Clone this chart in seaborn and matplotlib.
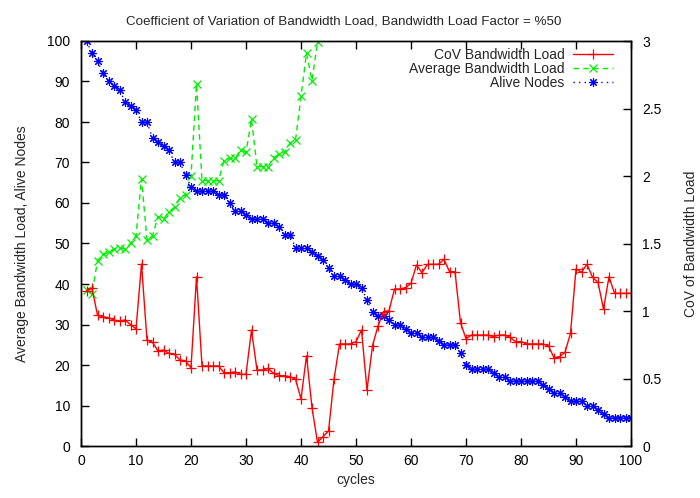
import numpy as np
import pandas as pd
import matplotlib
matplotlib.use("Agg")
import matplotlib.pyplot as plt
import seaborn as sns
from matplotlib.ticker import FuncFormatter, MultipleLocator

cycles = list(range(1, 101))

cov_load = [1.148, 1.168, 0.970, 0.958, 0.950, 0.933, 0.926, 0.933, 0.900, 0.867,
            1.348, 0.785, 0.768, 0.704, 0.711, 0.686, 0.679, 0.637, 0.630, 0.580,
            1.254, 0.593, 0.593, 0.593, 0.593, 0.543, 0.543, 0.548, 0.531, 0.531,
            0.859, 0.563, 0.563, 0.575, 0.538, 0.521, 0.521, 0.513, 0.496, 0.348,
            0.669, 0.284, 0.027, 0.069, 0.111, 0.494, 0.756, 0.756, 0.756, 0.773,
            0.859, 0.415, 0.743, 0.889, 0.995, 1.002, 1.163, 1.163, 1.173, 1.205,
            1.341, 1.284, 1.346, 1.346, 1.346, 1.383, 1.291, 1.291, 0.913, 0.795,
            0.822, 0.822, 0.822, 0.822, 0.810, 0.822, 0.822, 0.805, 0.773, 0.773,
            0.756, 0.756, 0.756, 0.756, 0.741, 0.654, 0.662, 0.694, 0.835, 1.311,
            1.287, 1.346, 1.250, 1.212, 1.015, 1.254, 1.131, 1.131, 1.131, 1.131]

avg_cycles = list(range(1, 44))
avg_load = [38.5, 37.5, 45.8, 47.3, 47.8, 48.6, 49.0, 48.6, 50.0, 51.9,
            66.0, 50.9, 51.9, 56.6, 56.0, 57.9, 58.9, 61.3, 62.0, 66.7,
            89.4, 65.5, 65.5, 65.5, 65.5, 70.4, 71.0, 71.0, 73.0, 72.5,
            80.7, 69.0, 69.0, 69.0, 71.2, 72.0, 72.5, 74.7, 75.5, 86.3,
            97.0, 90.2, 99.7]

alive_nodes = [100, 97, 95, 92, 90, 89, 88, 85, 84, 83,
               80, 80, 76, 75, 74, 73, 70, 70, 67, 64,
               63, 63, 63, 63, 62, 62, 60, 58, 58, 57,
               56, 56, 56, 55, 55, 54, 52, 52, 49, 49,
               49, 48, 47, 46, 44, 42, 42, 41, 40, 40,
               39, 36, 33, 32, 32, 31, 30, 30, 29, 28,
               28, 27, 27, 27, 26, 25, 25, 25, 23, 20,
               19, 19, 19, 19, 18, 17, 17, 16, 16, 16,
               16, 16, 16, 15, 14, 13, 13, 12, 11, 11,
               11, 10, 10, 9, 8, 7, 7, 7, 7, 7]

title = "Coefficient of Variation of Bandwidth Load, Bandwidth Load Factor = %50"

sns.set_theme(style="white")
plt.rcParams["font.family"] = ["Liberation Sans", "DejaVu Sans"]
plt.rcParams["font.size"] = 10

fig = plt.figure(figsize=(7.0, 4.98), dpi=100)
ax = fig.add_axes([81 / 700, 1 - 446 / 498, 550 / 700, 405 / 498])
ax2 = ax.twinx()

df_cov = pd.DataFrame({"cycles": cycles, "v": cov_load})
df_avg = pd.DataFrame({"cycles": avg_cycles, "v": avg_load})
df_alive = pd.DataFrame({"cycles": cycles, "v": alive_nodes})

red, green, blue = "#ff0000", "#00ee00", "#0000ff"

sns.lineplot(data=df_cov, x="cycles", y="v", ax=ax2, color=red, linewidth=1.0,
             marker="+", markersize=7, markeredgewidth=0.9, markeredgecolor=red,
             label="CoV Bandwidth Load", legend=False)
sns.lineplot(data=df_avg, x="cycles", y="v", ax=ax, color=green, linewidth=1.0,
             linestyle=(0, (4, 3)), marker="x", markersize=5.5, markeredgewidth=0.9,
             markeredgecolor=green, label="Average Bandwidth Load", legend=False)
sns.lineplot(data=df_alive, x="cycles", y="v", ax=ax, color=blue, linewidth=1.0,
             linestyle=(0, (1, 3)), marker=(8, 2, 0), markersize=6.5, markeredgewidth=0.8,
             markeredgecolor=blue, label="Alive Nodes", legend=False)

ax.set_xlim(0, 100)
ax.set_ylim(0, 100)
ax2.set_ylim(0, 3)
ax.xaxis.set_major_locator(MultipleLocator(10))
ax.yaxis.set_major_locator(MultipleLocator(10))
ax2.yaxis.set_major_locator(MultipleLocator(0.5))
ax2.yaxis.set_major_formatter(FuncFormatter(lambda v, p: f"{v:g}"))

for a in (ax, ax2):
    for s in a.spines.values():
        s.set_color("black")
        s.set_linewidth(1.0)

ax.tick_params(axis="x", direction="in", length=6, width=1, top=True, bottom=True,
               labelsize=10, colors="black", pad=6)
ax.tick_params(axis="y", direction="in", length=6, width=1, left=True, right=False,
               labelsize=10, colors="black", pad=8)
ax2.tick_params(axis="y", direction="in", length=6, width=1, right=True, left=False,
                labelsize=10, colors="black", pad=8)

ax.set_xlabel("cycles", fontsize=10, labelpad=3)
ax.set_ylabel("Average Bandwidth Load, Alive Nodes", fontsize=10, labelpad=13)
ax2.set_ylabel("CoV of Bandwidth Load", fontsize=10, labelpad=16, rotation=90)
ax.set_title(title, fontsize=9.6, pad=12, x=0.478)

handles = ax2.get_lines()[:1] + ax.get_lines()[:2]
labels = ["CoV Bandwidth Load", "Average Bandwidth Load", "Alive Nodes"]
leg = ax2.legend(handles, labels, loc="upper right", frameon=False, markerfirst=False,
                 fontsize=10, handlelength=2.9, handletextpad=0.6, labelspacing=0.0,
                 borderaxespad=0.3, bbox_to_anchor=(0.985, 1.006))

ax.grid(False)
ax2.grid(False)
fig.savefig("out.png", dpi=100)
